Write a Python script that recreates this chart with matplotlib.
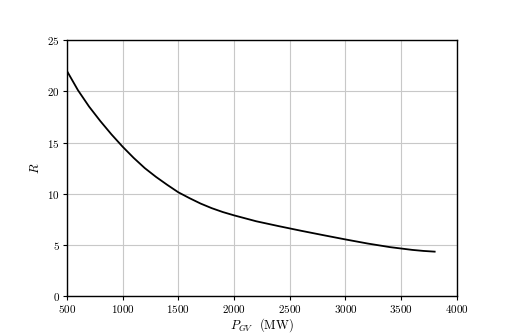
import matplotlib
matplotlib.use('Agg')
import matplotlib.pyplot as plt

plt.rcParams['font.family'] = 'serif'
plt.rcParams['font.serif'] = ['cmr10']
plt.rcParams['mathtext.fontset'] = 'cm'
plt.rcParams['axes.unicode_minus'] = False
plt.rcParams['axes.formatter.use_mathtext'] = True

# data
p_gv = [500, 600, 700, 800, 900, 1000, 1100, 1200, 1300, 1400, 1500, 1600, 1700, 1800,
        1900, 2000, 2200, 2400, 2600, 2800, 3000, 3200, 3400, 3600, 3700, 3800]
r_val = [22.0, 20.1, 18.5, 17.1, 15.8, 14.6, 13.5, 12.5, 11.65, 10.88, 10.15, 9.58, 9.05,
         8.6, 8.22, 7.9, 7.32, 6.85, 6.4, 5.97, 5.55, 5.15, 4.8, 4.53, 4.43, 4.36]

fig, ax = plt.subplots(figsize=(5.1, 3.33), dpi=100)
fig.subplots_adjust(left=0.131, right=0.896, top=0.88, bottom=0.11)

ax.plot(p_gv, r_val, color='k', linewidth=1.3)
ax.set_xlim(500, 4000)
ax.set_ylim(0, 25)
ax.set_xticks(range(500, 4001, 500))
ax.set_yticks(range(0, 26, 5))
ax.grid(True, color='#c8c8c8', linewidth=0.8)
ax.tick_params(labelsize=8, length=3, pad=2)
for s in ax.spines.values():
    s.set_linewidth(1.0)
ax.set_xlabel(r'$P_{GV}$  (MW)', fontsize=9, labelpad=1)
ax.set_ylabel(r'$R$', fontsize=9)

plt.savefig('out.png')
